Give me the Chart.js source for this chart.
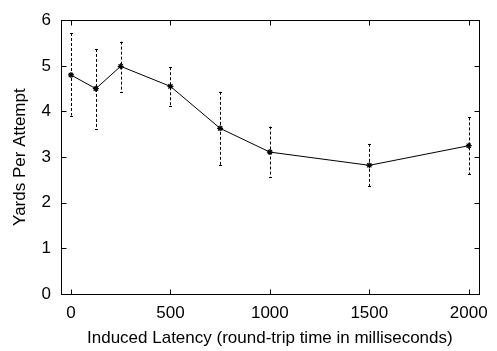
<!DOCTYPE html>
<html>
<head>
<meta charset="utf-8">
<script src="https://cdn.jsdelivr.net/npm/chart.js@4/dist/chart.umd.min.js"></script>
<style>
    html, body { margin: 0; padding: 0; background: #fff; }
    #wrap { width: 497px; height: 351px; }
</style>
</head>
<body>
<div id="wrap"><canvas id="latencyChart" width="497" height="351"></canvas></div>
<script>
// Induced latency (ms) vs. yards per attempt, with error bar ends
const latency = [0, 125, 250, 500, 750, 1000, 1500, 2000];
const yardsMean = [4.80, 4.50, 4.99, 4.55, 3.63, 3.11, 2.82, 3.25];
const yardsLow = [3.91, 3.62, 4.43, 4.13, 2.83, 2.57, 2.36, 2.63];
const yardsHigh = [5.72, 5.37, 5.53, 4.97, 4.43, 3.67, 3.29, 3.87];
const xTicks = [0, 500, 1000, 1500, 2000];
const yTicks = [0, 1, 2, 3, 4, 5, 6];

const FONT = 'Liberation Sans, Arial, sans-serif';

// dashed error bars with small caps
const errorBars = {
    id: 'errorBars',
    afterDatasetsDraw(chart) {
        const ctx = chart.ctx;
        const x = chart.scales.x;
        const y = chart.scales.y;
        ctx.save();
        ctx.strokeStyle = '#000';
        ctx.lineWidth = 1;
        latency.forEach((v, i) => {
            const px = Math.round(x.getPixelForValue(v)) + 0.5;
            const top = y.getPixelForValue(yardsHigh[i]);
            const bot = y.getPixelForValue(yardsLow[i]);
            ctx.setLineDash([3, 2]);
            ctx.beginPath();
            ctx.moveTo(px, top);
            ctx.lineTo(px, bot);
            ctx.stroke();
            ctx.setLineDash([]);
            ctx.beginPath();
            ctx.moveTo(px - 1.5, Math.round(top) + 0.5);
            ctx.lineTo(px + 1.5, Math.round(top) + 0.5);
            ctx.moveTo(px - 1.5, Math.round(bot) + 0.5);
            ctx.lineTo(px + 1.5, Math.round(bot) + 0.5);
            ctx.stroke();
        });
        ctx.restore();
    }
};

// gnuplot style frame with inward ticks on all four sides
const frame = {
    id: 'frame',
    afterDraw(chart) {
        const ctx = chart.ctx;
        const a = chart.chartArea;
        const x = chart.scales.x;
        const y = chart.scales.y;
        const L = Math.round(a.left) + 0.5, R = Math.round(a.right) + 0.5;
        const T = Math.round(a.top) + 0.5, B = Math.round(a.bottom) + 0.5;
        ctx.save();
        ctx.strokeStyle = '#000';
        ctx.lineWidth = 1;
        ctx.strokeRect(L, T, R - L, B - T);
        ctx.beginPath();
        xTicks.forEach(v => {
            const px = Math.round(x.getPixelForValue(v)) + 0.5;
            ctx.moveTo(px, B); ctx.lineTo(px, B - 5);
            ctx.moveTo(px, T); ctx.lineTo(px, T + 5);
        });
        yTicks.forEach(v => {
            const py = Math.round(y.getPixelForValue(v)) + 0.5;
            ctx.moveTo(L, py); ctx.lineTo(L + 5, py);
            ctx.moveTo(R, py); ctx.lineTo(R - 5, py);
        });
        ctx.stroke();
        ctx.restore();
    }
};

new Chart(document.getElementById('latencyChart'), {
    type: 'line',
    data: {
        datasets: [{
            data: latency.map((v, i) => ({ x: v, y: yardsMean[i] })),
            borderColor: '#000',
            backgroundColor: '#000',
            borderWidth: 1,
            pointStyle: 'star',
            pointRadius: 3,
            pointBorderWidth: 1.2,
            tension: 0
        }]
    },
    options: {
        responsive: false,
        animation: false,
        devicePixelRatio: 1,
        layout: { padding: { left: 0, top: 11, right: 14, bottom: 0 } },
        plugins: { legend: { display: false }, tooltip: { enabled: false } },
        scales: {
            x: {
                type: 'linear',
                min: -50,
                max: 2050,
                afterBuildTicks: s => { s.ticks = xTicks.map(v => ({ value: v })); },
                afterFit: s => { s.height = 57; },
                grid: { display: false, drawTicks: false },
                border: { display: false },
                ticks: {
                    color: '#000',
                    font: { family: FONT, size: 17 },
                    padding: 9,
                    maxRotation: 0,
                    callback: v => String(v)
                },
                title: {
                    display: true,
                    text: 'Induced Latency (round-trip time in milliseconds)',
                    color: '#000',
                    font: { family: FONT, size: 17 },
                    padding: { top: 0, bottom: 2 }
                }
            },
            y: {
                min: 0,
                max: 6,
                afterBuildTicks: s => { s.ticks = yTicks.map(v => ({ value: v })); },
                afterFit: s => { s.width = 61; },
                grid: { display: false, drawTicks: false },
                border: { display: false },
                ticks: { color: '#000', font: { family: FONT, size: 17 }, padding: 10 },
                title: {
                    display: true,
                    text: 'Yards Per Attempt',
                    color: '#000',
                    font: { family: FONT, size: 17 },
                    padding: { top: 10, bottom: 0 }
                }
            }
        }
    },
    plugins: [errorBars, frame]
});
</script>
</body>
</html>
